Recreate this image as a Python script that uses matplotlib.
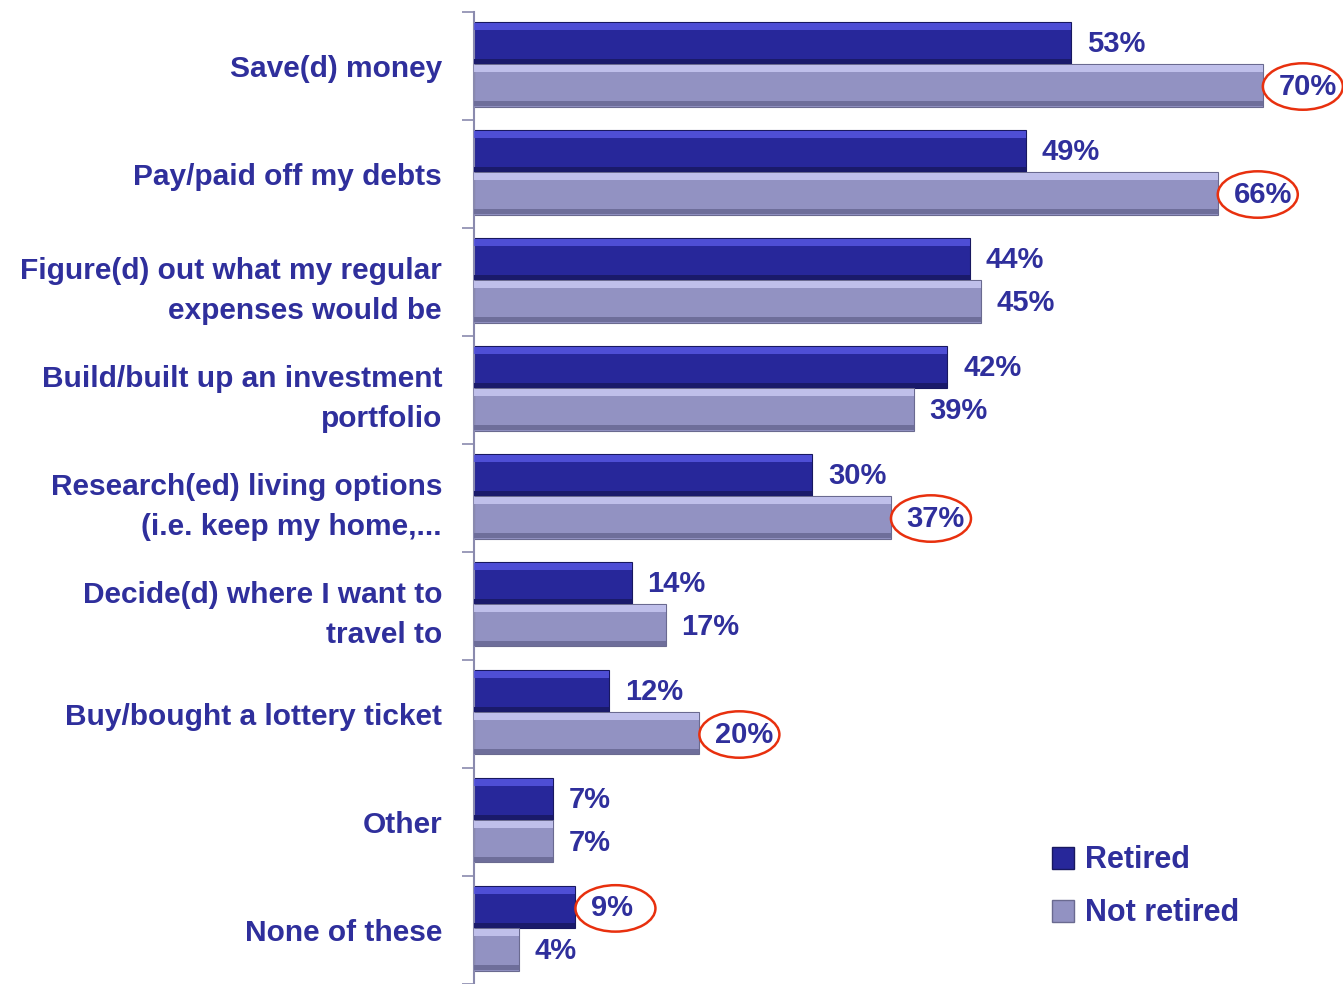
import matplotlib
matplotlib.use("Agg")
import matplotlib.pyplot as plt
from matplotlib.patches import Ellipse, Patch
import numpy as np

categories = [
    "Save(d) money",
    "Pay/paid off my debts",
    "Figure(d) out what my regular\nexpenses would be",
    "Build/built up an investment\nportfolio",
    "Research(ed) living options\n(i.e. keep my home,...",
    "Decide(d) where I want to\ntravel to",
    "Buy/bought a lottery ticket",
    "Other",
    "None of these",
]
retired = [53, 49, 44, 42, 30, 14, 12, 7, 9]
not_retired = [70, 66, 45, 39, 37, 17, 20, 7, 4]
series_names = ["Retired", "Not retired"]
# which value labels are circled: (series index, category index)
circled = [(1, 0), (1, 1), (1, 4), (1, 6), (0, 8)]

plt.rcParams['font.family'] = ['Liberation Sans', 'DejaVu Sans']
TXT = '#2F2F9C'

fig = plt.figure(figsize=(13.43, 9.84), dpi=100)
ax = fig.add_axes([474/1343, 0.0, 879/1343, 972/984])

y = np.arange(len(categories))
h = 0.39
off_r = -0.21
off_n = 0.18

styles = [
    dict(main='#27279A', hi='#5555E0', lo='#1A1A6A', edge='#181860'),
    dict(main='#9292C2', hi='#C8C8F2', lo='#6E6E9A', edge='#6A6A90'),
]
for vals, off, st in [(retired, off_r, styles[0]), (not_retired, off_n, styles[1])]:
    yy = y + off
    ax.barh(yy, vals, height=h, color=st['main'], edgecolor=st['edge'], linewidth=0.8, zorder=2)
    ax.barh(yy - h/2 + 0.04, vals, height=0.06, color=st['hi'], linewidth=0, zorder=3, alpha=0.85)
    ax.barh(yy + h/2 - 0.025, vals, height=0.045, color=st['lo'], linewidth=0, zorder=3)

fs = 21
for si, (vals, off) in enumerate([(retired, off_r), (not_retired, off_n)]):
    for i, v in enumerate(vals):
        ax.text(v + 1.4, i + off + 0.01, f"{v}%", ha='left', va='center',
                fontsize=fs, fontweight='bold', color=TXT, zorder=5)
for si, ci in circled:
    v = [retired, not_retired][si][ci]
    off = [off_r, off_n][si]
    e = Ellipse((v + 3.55, ci + off + 0.01), width=7.1, height=0.43,
                fill=False, edgecolor='#E8300E', linewidth=1.8, zorder=6)
    ax.add_patch(e)

ax.set_xlim(0, 78)
ax.set_ylim(8.5, -0.5)
ax.set_xticks([])
ax.set_yticks(y)
ax.set_yticklabels(categories, fontsize=21.5, fontweight='bold', color=TXT,
                   linespacing=1.55)
ax.tick_params(axis='y', which='major', length=0, pad=23)
ax.set_yticks(np.arange(-0.5, 9.0, 1.0), minor=True)
ax.tick_params(axis='y', which='minor', length=9, width=1.2, color='#8A8AAE', direction='out')
for s in ['top', 'right', 'bottom']:
    ax.spines[s].set_visible(False)
ax.spines['left'].set_color('#8A8AAE')
ax.spines['left'].set_linewidth(1.5)

handles = [Patch(facecolor=styles[0]['main'], edgecolor=styles[0]['edge']),
           Patch(facecolor=styles[1]['main'], edgecolor=styles[1]['edge'])]
leg = fig.legend(handles, series_names, loc='upper left',
                 bbox_to_anchor=(1024/1343, 1 - 818/984), frameon=False,
                 handlelength=0.75, handleheight=0.75, handletextpad=0.35,
                 labelspacing=0.75, prop=dict(size=22, weight='bold'))
for t in leg.get_texts():
    t.set_color(TXT)

fig.savefig("out.png", dpi=100)
